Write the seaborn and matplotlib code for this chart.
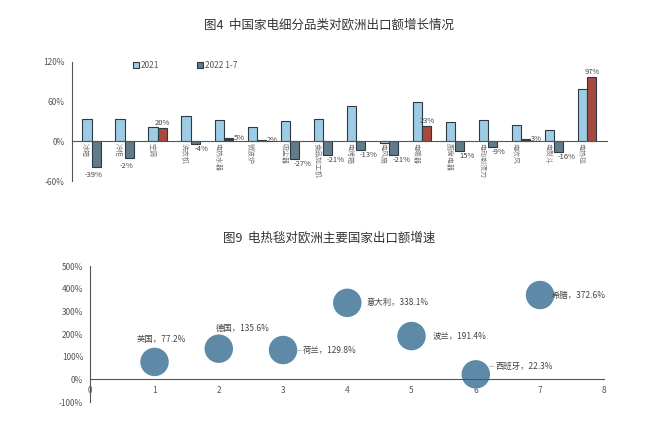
import pandas as pd
import seaborn as sns
import matplotlib.pyplot as plt

sns.set_style("white")
plt.rcParams['font.family'] = ['Noto Sans CJK SC', 'DejaVu Sans']
plt.rcParams['axes.unicode_minus'] = False

# chart 1 data
categories = ['冰箱', '冷柜', '空调', '洗衣机', '电热水器', '微波炉', '吸尘器', '食品加工机',
              '电烤箱', '电风扇', '电暖器', '厨房电器', '电动剃须刀', '电吹风', '电熨斗', '电热毯']
vals_2021 = [33, 33, 21, 38, 32, 21, 30, 33, 53, -3, 60, 29, 32, 24, 17, 79]
vals_2022 = [-39, -25, 20, -4, 5, 2, -27, -21, -13, -21, 23, -15, -9, 3, -16, 97]
labels_2022 = ['-39%', '-2%', '20%', '-4%', '5%', '2%', '-27%', '-21%', '-13%', '-21%',
               '23%', '15%', '-9%', '3%', '-16%', '97%']

# chart 2 data
countries = ['英国', '德国', '荷兰', '意大利', '波兰', '西班牙', '希腊']
country_x = [1, 2, 3, 4, 5, 6, 7]
growth = [77.2, 135.6, 129.8, 338.1, 191.4, 22.3, 372.6]

fig = plt.figure(figsize=(6.59, 4.30), dpi=100)
fig.text(0.5, 0.942, '图4  中国家电细分品类对欧洲出口额增长情况', ha='center', va='center',
         fontsize=9, color='#333333')
fig.text(0.5, 0.447, '图9  电热毯对欧洲主要国家出口额增速', ha='center', va='center',
         fontsize=9, color='#333333')

# ---- bar chart ----
ax1 = fig.add_axes([0.109, 0.579, 0.812, 0.277])
df = pd.DataFrame({'cat': categories * 2,
                   'year': ['2021'] * 16 + ['2022 1-7'] * 16,
                   'val': vals_2021 + vals_2022})
sns.barplot(data=df, x='cat', y='val', hue='year', palette=['#92D0F0', '#5B7D8E'],
            width=0.56, edgecolor='#2b3a44', linewidth=0.8, ax=ax1)
for bar, v in zip(ax1.containers[1], vals_2022):
    if v > 10:
        bar.set_facecolor('#A64A3E')
    elif v > 0:
        bar.set_facecolor('#3a3a3a')

ax1.spines['bottom'].set_position(('data', 0))
ax1.set_ylim(-60, 120)
ax1.set_xlim(-0.6, 15.6)
ax1.set_yticks([-60, 0, 60, 120])
ax1.set_yticklabels(['-60%', '0%', '60%', '120%'], fontsize=6, color='#555555')
ax1.set_xlabel('')
ax1.set_ylabel('')
ax1.set_xticks([])
ax1.set_xticks([i + 0.5 for i in range(-1, 16)], minor=True)
ax1.tick_params(axis='x', which='minor', length=2, color='#555555', direction='inout')
ax1.tick_params(axis='y', length=3, color='#555555', pad=2)
for s in ['top', 'right']:
    ax1.spines[s].set_visible(False)
for s in ['left', 'bottom']:
    ax1.spines[s].set_color('#555555')
    ax1.spines[s].set_linewidth(0.8)

for i, c in enumerate(categories):
    ax1.text(i - 0.2, -3, c, rotation=270, ha='center', va='top', fontsize=5,
             color='#777777')
for i, (v, t) in enumerate(zip(vals_2022, labels_2022)):
    if i in (0, 1):
        ax1.text(i + 0.05, v - 6, t, ha='center', va='top', fontsize=5.5, color='#444444')
    elif v >= 15:
        ax1.text(i + 0.15, v + 2, t, ha='center', va='bottom', fontsize=5.5, color='#444444')
    elif v > 0:
        ax1.text(i + 0.29, v, t, ha='left', va='center', fontsize=5.5, color='#444444')
    else:
        ax1.text(i + 0.12, v - 1, t, ha='left', va='top', fontsize=5.5, color='#444444')

leg = ax1.legend(loc='upper left', bbox_to_anchor=(0.1, 1.07), ncol=2, frameon=False,
                 fontsize=6, handlelength=0.7, handleheight=0.7, columnspacing=4.5,
                 handletextpad=0.3)
for t in leg.get_texts():
    t.set_color('#555555')

# ---- bubble chart ----
ax2 = fig.add_axes([0.137, 0.065, 0.78, 0.316])
sns.scatterplot(x=country_x, y=growth, s=420, color='#5584A3', edgecolor='none',
                alpha=0.95, ax=ax2)
ax2.spines['bottom'].set_position(('data', 0))
ax2.set_xlim(0, 8)
ax2.set_ylim(-100, 500)
ax2.set_xticks(range(0, 9))
ax2.set_xticklabels([str(i) for i in range(0, 9)], fontsize=6, color='#555555')
ax2.set_yticks(range(-100, 501, 100))
ax2.set_yticklabels(['%d%%' % v for v in range(-100, 501, 100)], fontsize=6, color='#555555')
ax2.tick_params(length=3, color='#555555', pad=2)
for s in ['top', 'right']:
    ax2.spines[s].set_visible(False)
for s in ['left', 'bottom']:
    ax2.spines[s].set_color('#555555')
    ax2.spines[s].set_linewidth(0.8)

offsets = {'英国': (0.1, 100, 'center'), '德国': (-0.05, 88, 'left'),
           '荷兰': (0.3, 0, 'left'), '意大利': (0.3, 0, 'left'),
           '波兰': (0.33, 0, 'left'), '西班牙': (0.3, 35, 'left'),
           '希腊': (0.18, 0, 'left')}
for c, x, y in zip(countries, country_x, growth):
    dx, dy, ha = offsets[c]
    ax2.text(x + dx, y + dy, '%s，%.1f%%' % (c, y), ha=ha, va='center', fontsize=6,
             color='#444444')
ax2.plot([3.2, 3.28], [129.8, 129.8], color='#aaaaaa', lw=0.5)
ax2.plot([6.2, 6.28], [57.3, 57.3], color='#aaaaaa', lw=0.5)

fig.savefig('out.png', dpi=100)
